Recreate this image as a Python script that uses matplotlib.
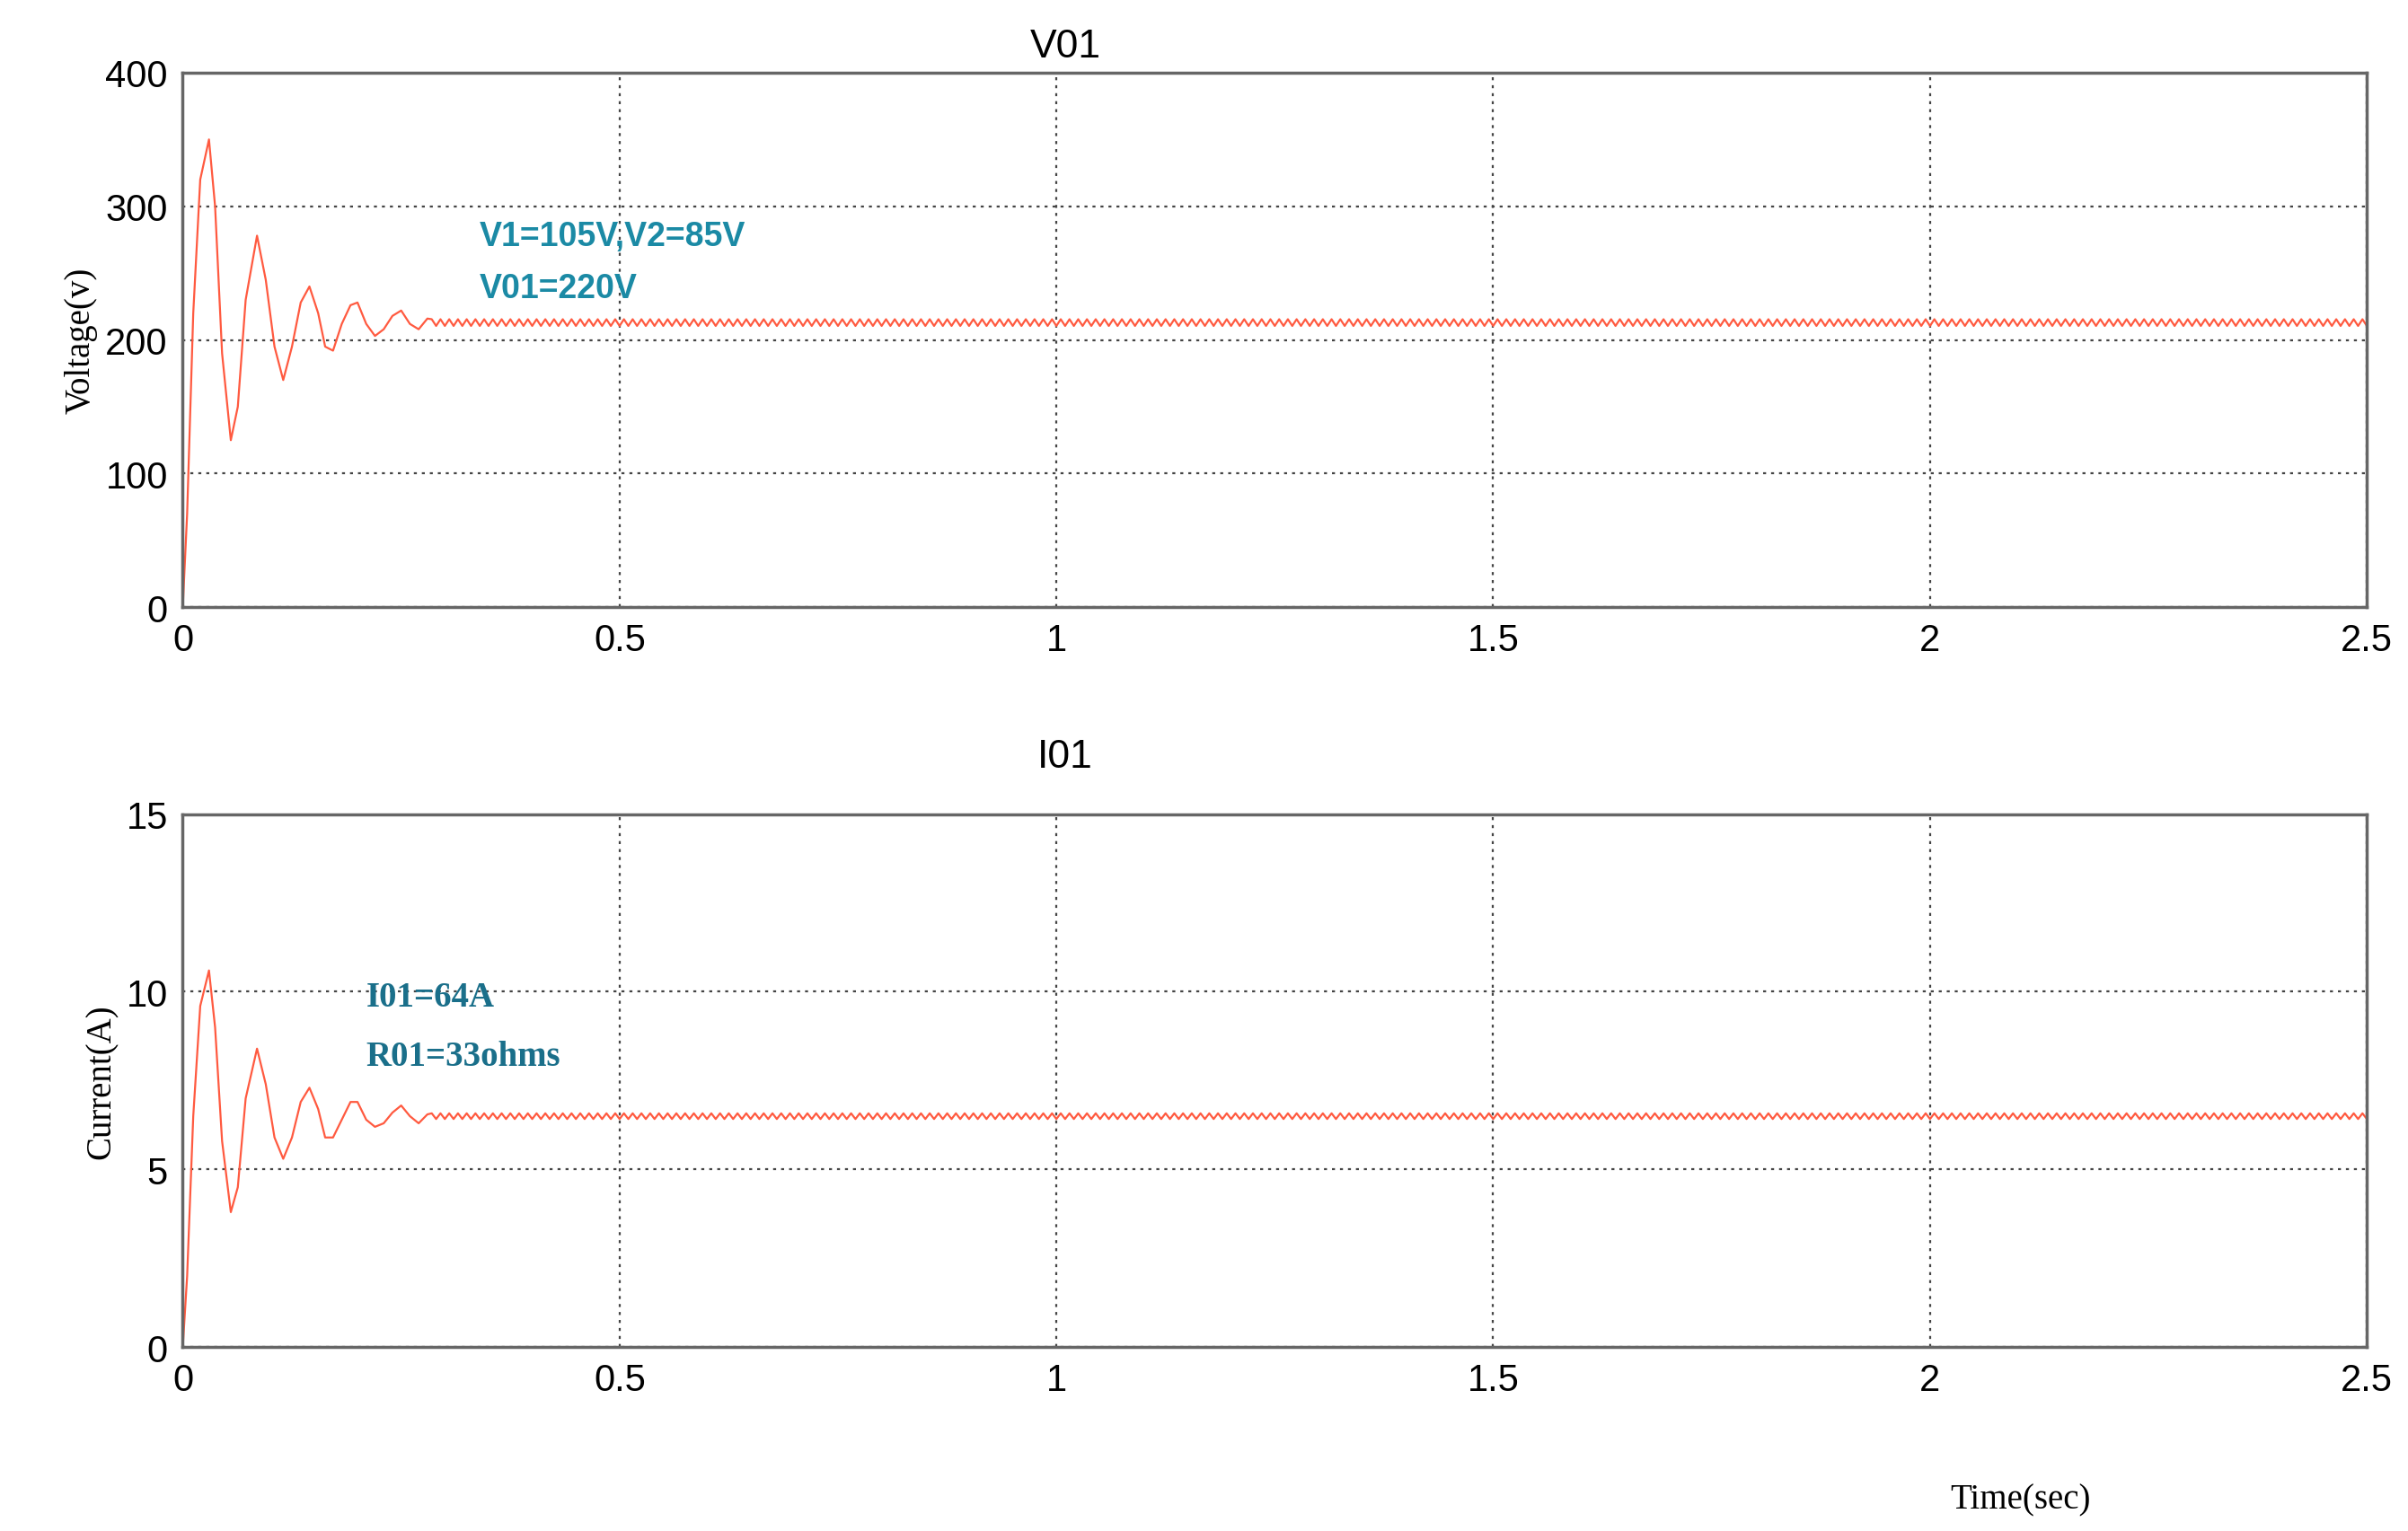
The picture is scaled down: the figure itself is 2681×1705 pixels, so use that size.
import numpy as np
import matplotlib
matplotlib.use("Agg")
import matplotlib.pyplot as plt

# transient key points (time s, value)
v_t = [0.0, 0.005, 0.012, 0.02, 0.03, 0.037, 0.045, 0.055, 0.063, 0.072, 0.085, 0.095, 0.105, 0.115, 0.125, 0.135, 0.145, 0.155, 0.163, 0.172, 0.182, 0.192, 0.2, 0.21, 0.22, 0.23, 0.24, 0.25, 0.26, 0.27, 0.28]
v_y = [0, 70, 220, 320, 350, 300, 190, 125, 150, 230, 278, 245, 195, 170, 195, 228, 240, 220, 195, 192, 212, 226, 228, 212, 203, 208, 218, 222, 212, 208, 216]
i_y = [0, 2.0, 6.5, 9.6, 10.6, 9.0, 5.8, 3.8, 4.5, 7.0, 8.4, 7.4, 5.9, 5.3, 5.9, 6.9, 7.3, 6.7, 5.9, 5.9, 6.4, 6.9, 6.9, 6.4, 6.2, 6.3, 6.6, 6.8, 6.5, 6.3, 6.55]
v_steady = 213
v_ripple = 2.5
i_steady = 6.5
i_ripple = 0.08
ripple_period = 0.01
t_end = 2.5

xticks = [0, 0.5, 1, 1.5, 2, 2.5]
xticklabels = ["0", "0.5", "1", "1.5", "2", "2.5"]

def build(ty, yy, steady, rip):
    ts = np.arange(ty[-1] + ripple_period / 2, t_end + 1e-9, ripple_period / 2)
    ys = np.array([steady + (rip if k % 2 == 0 else -rip) for k in range(len(ts))])
    return np.concatenate([ty, ts]), np.concatenate([yy, ys])

fig = plt.figure(figsize=(26.81, 17.06), dpi=100)
ax1 = fig.add_axes([0.0759, 0.603, 0.907, 0.349])
ax2 = fig.add_axes([0.0759, 0.120, 0.907, 0.348])
red = "#ff5a40"
teal = "#1b8aa5"

for ax, ty, steady, rip, ylim, yt, title, ylab, tpad in [
    (ax1, v_y, v_steady, v_ripple, (0, 400), [0, 100, 200, 300, 400], "V01", "Voltage(v)", 13),
    (ax2, i_y, i_steady, i_ripple, (0, 15), [0, 5, 10, 15], "I01", "Current(A)", 38)]:
    x, y = build(v_t, ty, steady, rip)
    ax.plot(x, y, color=red, lw=1.6)
    ax.set_xlim(0, 2.5)
    ax.set_ylim(*ylim)
    ax.set_xticks(xticks)
    ax.set_xticklabels(xticklabels)
    ax.set_yticks(yt)
    ax.grid(True, color="#444444", linestyle=(0, (1.5, 2.5)), lw=1.6)
    ax.tick_params(labelsize=30, length=0, pad=12)
    for lab in ax.get_xticklabels() + ax.get_yticklabels():
        lab.set_family("Liberation Sans")
    for s in ax.spines.values():
        s.set_color("#666666"); s.set_linewidth(2.5)
    ax.set_title(title, fontsize=32, family="Liberation Sans", pad=tpad, x=0.404)
    ax.set_ylabel(ylab, fontsize=28, family="Liberation Serif", labelpad=6)

ax1.text(0.34, 271, "V1=105V,V2=85V", color=teal, fontsize=27, fontweight="bold", family="Liberation Sans")
ax1.text(0.34, 232, "V01=220V", color=teal, fontsize=27, fontweight="bold", family="Liberation Sans")
ax2.text(0.21, 9.6, "I01=64A", color="#1a6f8a", fontsize=28, fontweight="bold", family="Liberation Serif")
ax2.text(0.21, 7.95, "R01=33ohms", color="#1a6f8a", fontsize=28, fontweight="bold", family="Liberation Serif")
fig.text(0.81, 0.015, "Time(sec)", fontsize=28, family="Liberation Serif")

fig.savefig("out.png", dpi=100, facecolor="white")
